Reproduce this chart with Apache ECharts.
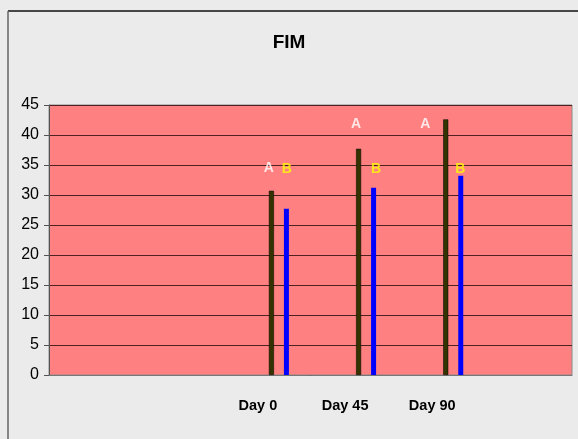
<!DOCTYPE html>
<html>
<head>
<meta charset="utf-8">
<script src="https://cdn.jsdelivr.net/npm/echarts@6/dist/echarts.min.js"></script>
<style>
html, body { margin: 0; padding: 0; background: #ebebeb; }
#chart { width: 578px; height: 439px; }
</style>
</head>
<body>
<div id="chart"></div>
<script>
// categories along the x axis (two empty slots before, one after)
const categories = ['', '', 'Day 0', 'Day 45', 'Day 90', '']
const seriesA = [null, null, 30.7, 37.7, 42.6, null]
const seriesB = [null, null, 27.7, 31.2, 33.2, null]
const spacer = [null, null, null, null, null, null]

// y axis: 0..45 step 5
const yMin = 0
const yMax = 45
const yStep = 5

// significance letters, placed by value
const letterDays = ['Day 0', 'Day 45', 'Day 90']
const letterA = [34.4, 41.8, 41.8]
const letterB = [34.3, 34.3, 34.3]

const myChart = echarts.init(document.getElementById('chart'))

const font = 'Liberation Sans, Arial, sans-serif'
const offsetsA = [[2, 0], [2, 0], [-16, 0]]
const offsetsB = [[20, 0], [22, 0], [19, 0]]

const option = {
  backgroundColor: '#ebebeb',
  animation: false,
  title: {
    text: 'FIM',
    left: 'center',
    top: 28,
    textStyle: { fontFamily: font, fontSize: 19, fontWeight: 'bold', color: '#000' }
  },
  graphic: [
    { type: 'line', shape: { x1: 8, y1: 11, x2: 578, y2: 11 }, style: { stroke: '#111', lineWidth: 1.5 } },
    { type: 'line', shape: { x1: 8, y1: 11, x2: 8, y2: 439 }, style: { stroke: '#666', lineWidth: 1.5 } }
  ],
  grid: {
    left: 49,
    right: 6,
    top: 105,
    bottom: 64,
    show: true,
    backgroundColor: '#ff8080',
    borderColor: '#8a8a8a',
    borderWidth: 1
  },
  xAxis: {
    type: 'category',
    data: categories,
    axisLine: { lineStyle: { color: '#777', width: 1 } },
    axisTick: { length: 5, lineStyle: { color: '#555' } },
    axisLabel: {
      interval: 0,
      margin: 23,
      padding: [0, 18, 0, 0],
      fontFamily: font,
      fontSize: 14.5,
      fontWeight: 'bold',
      color: '#000'
    }
  },
  yAxis: {
    type: 'value',
    min: yMin,
    max: yMax,
    interval: yStep,
    axisLine: { show: true, lineStyle: { color: '#555', width: 1 } },
    axisTick: { show: true, length: 5, lineStyle: { color: '#555' } },
    axisLabel: { margin: 10, fontFamily: font, fontSize: 16, color: '#000' },
    splitLine: { lineStyle: { color: '#4e2222', width: 1.2 } }
  },
  series: [
    {
      name: 'spacer',
      type: 'bar',
      data: spacer,
      barWidth: 8,
      barGap: '200%'
    },
    {
      name: 'A',
      type: 'bar',
      data: seriesA,
      barWidth: 5,
      barGap: '200%',
      itemStyle: { color: '#333300', borderColor: '#000', borderWidth: 0.5 }
    },
    {
      name: 'B',
      type: 'bar',
      data: seriesB,
      barWidth: 5,
      barGap: '200%',
      itemStyle: { color: '#0000ff' }
    },
    {
      name: 'letters A',
      type: 'scatter',
      symbolSize: 0,
      data: letterDays.map((d, i) => ({
        value: [d, letterA[i]],
        label: { offset: offsetsA[i] }
      })),
      label: {
        show: true,
        position: 'inside',
        formatter: 'A',
        fontFamily: font,
        fontSize: 14,
        fontWeight: 'bold',
        color: '#ffffff'
      }
    },
    {
      name: 'letters B',
      type: 'scatter',
      symbolSize: 0,
      data: letterDays.map((d, i) => ({
        value: [d, letterB[i]],
        label: { offset: offsetsB[i] }
      })),
      label: {
        show: true,
        position: 'inside',
        formatter: 'B',
        fontFamily: font,
        fontSize: 14,
        fontWeight: 'bold',
        color: '#ffff00'
      }
    }
  ]
}

myChart.setOption(option)
</script>
</body>
</html>
